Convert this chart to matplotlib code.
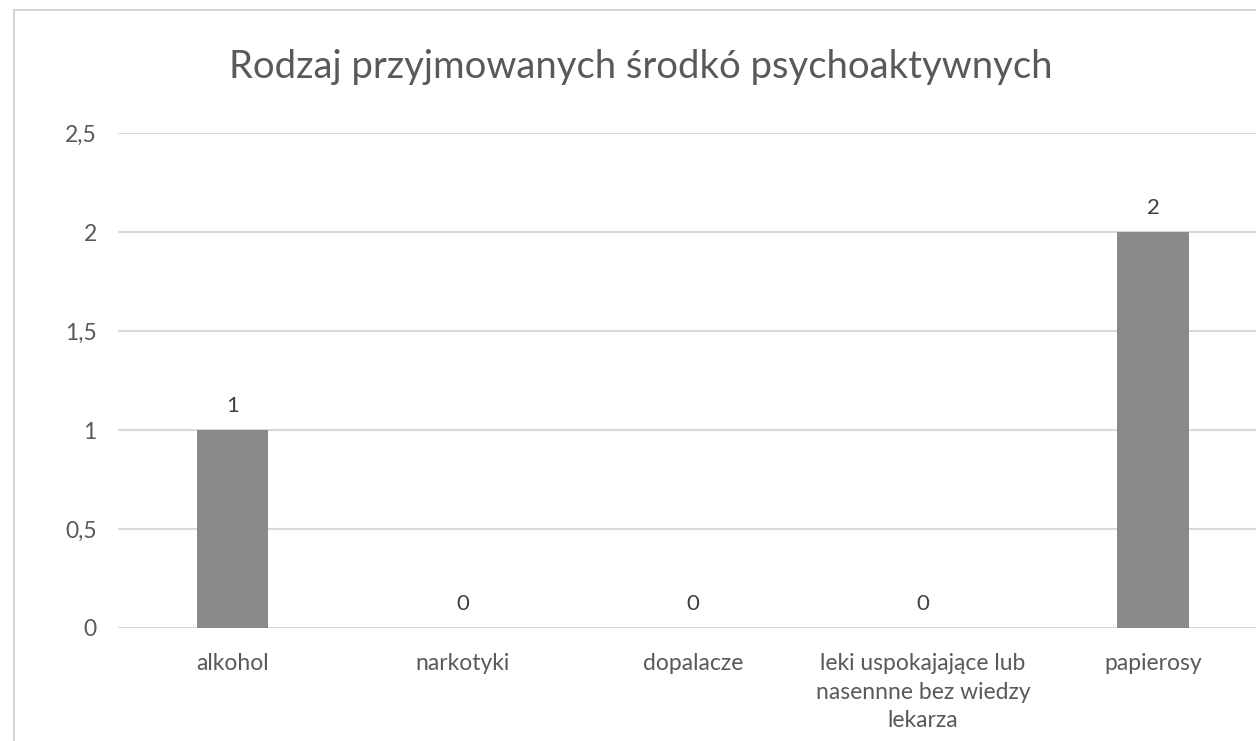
import matplotlib
matplotlib.use("Agg")
import matplotlib.pyplot as plt
from matplotlib.lines import Line2D

categories = ["alkohol", "narkotyki", "dopalacze",
              "leki uspokajające lub\nnasennne bez wiedzy\nlekarza", "papierosy"]
values = [1, 0, 0, 0, 2]
yticks = [0, 0.5, 1, 1.5, 2, 2.5]
ytick_labels = ["0", "0,5", "1", "1,5", "2", "2,5"]
title = "Rodzaj przyjmowanych środkó psychoaktywnych"

plt.rcParams['font.family'] = ['Lato', 'DejaVu Sans']
txt = "#595959"

fig = plt.figure(figsize=(12.56, 7.41), dpi=100)
ax = fig.add_axes([0.0936, 0.1525, 0.916, 0.668])
x = list(range(len(categories)))
ax.bar(x, values, width=0.31, color="#8a8a8a", zorder=3)
ax.set_xlim(-0.5, len(categories) - 0.5)
ax.set_ylim(0, 2.5)
ax.set_yticks(yticks)
ax.set_yticklabels(ytick_labels)
ax.set_xticks(x)
ax.set_xticklabels(categories, linespacing=1.45)
ax.tick_params(axis='both', length=0, colors=txt, labelsize=16.5)
ax.tick_params(axis='y', pad=15)
ax.tick_params(axis='x', pad=18)
ax.grid(axis='y', color="#d9d9d9", linewidth=1.5, zorder=0)
for s in ax.spines.values():
    s.set_visible(False)
for xi, v in zip(x, values):
    ax.annotate(str(v), (xi, v), xytext=(0, 10), textcoords='offset points',
                ha='center', va='bottom', fontsize=16, color="#404040")

fig.text(0.51, 0.909, title, ha='center', va='center', fontsize=27.5, color=txt)

fig.add_artist(Line2D([14/1256, 1], [1 - 10/741, 1 - 10/741], color="#cfcfcf", lw=1.2))
fig.add_artist(Line2D([14/1256, 14/1256], [0, 1 - 10/741], color="#cfcfcf", lw=1.2))

fig.savefig("out.png", dpi=100)
